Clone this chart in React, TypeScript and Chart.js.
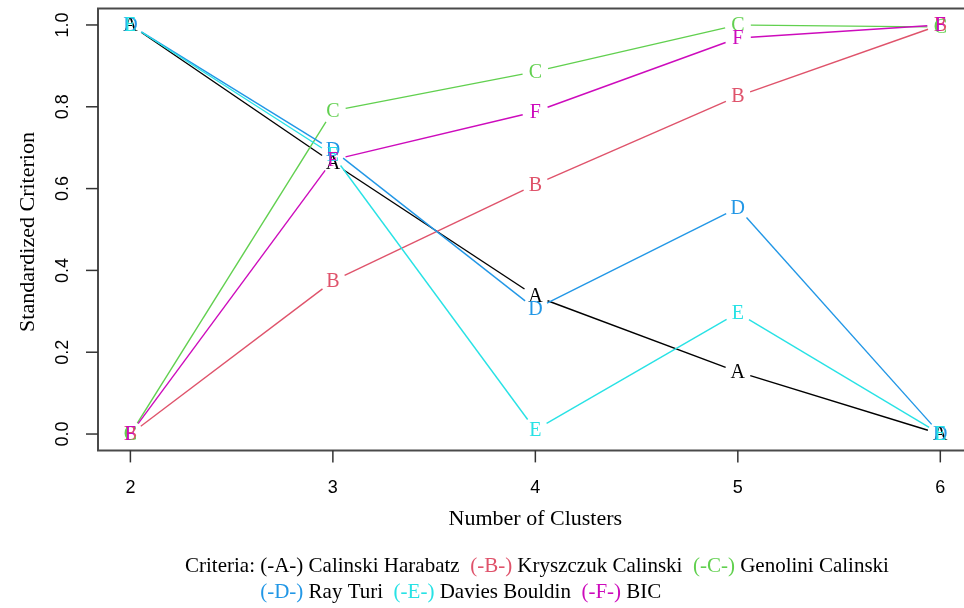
import React, { useEffect, useRef } from "react";
import { Chart, registerables } from "chart.js";

Chart.register(...registerables);

const clusters = [2, 3, 4, 5, 6];
const calinskiHarabatz = [1.0, 0.663, 0.337, 0.152, 0.0];
const kryszczukCalinski = [0.0, 0.374, 0.61, 0.826, 1.0];
const genoliniCalinski = [0.0, 0.79, 0.886, 1.0, 0.995];
const rayTuri = [1.0, 0.694, 0.306, 0.553, 0.0];
const daviesBouldin = [1.0, 0.682, 0.01, 0.296, 0.0];
const bic = [0.0, 0.67, 0.788, 0.968, 1.0];

const seriesNames = ["Calinski Harabatz", "Kryszczuk Calinski", "Genolini Calinski", "Ray Turi", "Davies Bouldin", "BIC"];
const seriesLetters = ["A", "B", "C", "D", "E", "F"];
const seriesValues = [calinskiHarabatz, kryszczukCalinski, genoliniCalinski, rayTuri, daviesBouldin, bic];
const seriesColors = ["#000000", "#DF536B", "#61D04F", "#2297E6", "#28E2E5", "#CD0BBC"];

const xTicks = [2, 3, 4, 5, 6];
const yTicks = [0, 0.2, 0.4, 0.6, 0.8, 1.0];
const xTitle = "Number of Clusters";
const yTitle = "Standardized Criterion";

const SERIF = "'Liberation Serif', 'DejaVu Serif', serif";
const SANS = "'Liberation Sans', Arial, sans-serif";

const rPlugin = {
  id: "rstyle",
  afterDatasetsDraw(chart: any) {
    const ctx = chart.ctx as CanvasRenderingContext2D;
    const area = chart.chartArea;
    const xs = chart.scales.x;
    const ys = chart.scales.y;
    ctx.save();
    // series lines (type "b": gaps around points) and letters
    const gap = 13;
    chart.data.datasets.forEach((ds: any, i: number) => {
      const meta = chart.getDatasetMeta(i);
      const pts = meta.data;
      ctx.strokeStyle = seriesColors[i];
      ctx.lineWidth = 1.4;
      for (let k = 0; k < pts.length - 1; k++) {
        const p0 = pts[k], p1 = pts[k + 1];
        const dx = p1.x - p0.x, dy = p1.y - p0.y;
        const len = Math.hypot(dx, dy);
        if (len <= 2 * gap) continue;
        const ux = dx / len, uy = dy / len;
        ctx.beginPath();
        ctx.moveTo(p0.x + ux * gap, p0.y + uy * gap);
        ctx.lineTo(p1.x - ux * gap, p1.y - uy * gap);
        ctx.stroke();
      }
      ctx.fillStyle = seriesColors[i];
      ctx.font = `20px ${SERIF}`;
      ctx.textAlign = "center";
      ctx.textBaseline = "middle";
      pts.forEach((p: any) => {
        ctx.fillText(seriesLetters[i], p.x, p.y + 1);
      });
    });

    // box (top, left, bottom)
    ctx.strokeStyle = "#4a4a4a";
    ctx.lineWidth = 2;
    ctx.beginPath();
    ctx.moveTo(area.right + 2, area.top);
    ctx.lineTo(area.left, area.top);
    ctx.lineTo(area.left, area.bottom);
    ctx.lineTo(area.right + 2, area.bottom);
    ctx.stroke();

    // x ticks
    ctx.lineWidth = 1.5;
    ctx.strokeStyle = "#333";
    ctx.fillStyle = "#000";
    ctx.font = `18px ${SANS}`;
    ctx.textAlign = "center";
    ctx.textBaseline = "middle";
    xTicks.forEach((v) => {
      const px = xs.getPixelForValue(v);
      ctx.beginPath();
      ctx.moveTo(px, area.bottom);
      ctx.lineTo(px, area.bottom + 12);
      ctx.stroke();
      ctx.fillText(String(v), px, 488);
    });
    // y ticks
    yTicks.forEach((v) => {
      const py = ys.getPixelForValue(v);
      ctx.beginPath();
      ctx.moveTo(area.left, py);
      ctx.lineTo(area.left - 12, py);
      ctx.stroke();
      ctx.save();
      ctx.translate(63, py);
      ctx.rotate(-Math.PI / 2);
      ctx.fillText(v.toFixed(1), 0, 0);
      ctx.restore();
    });

    // axis titles
    ctx.font = `22px ${SERIF}`;
    ctx.fillText(xTitle, xs.getPixelForValue(4), 519);
    ctx.save();
    ctx.translate(28, 232);
    ctx.rotate(-Math.PI / 2);
    ctx.fillText(yTitle, 0, 0);
    ctx.restore();

    // legend text
    ctx.font = `21px ${SERIF}`;
    ctx.textAlign = "left";
    const drawLine = (startX: number, y: number, prefix: string, idxs: number[]) => {
      let x = startX;
      if (prefix) {
        ctx.fillStyle = "#000";
        ctx.fillText(prefix, x, y);
        x += ctx.measureText(prefix).width;
      }
      const begin = x;
      idxs.forEach((i, j) => {
        const tag = `(-${seriesLetters[i]}-) `;
        ctx.fillStyle = seriesColors[i];
        ctx.fillText(tag, x, y);
        x += ctx.measureText(tag).width;
        const name = seriesNames[i] + (j < idxs.length - 1 ? "  " : "");
        ctx.fillStyle = "#000";
        ctx.fillText(name, x, y);
        x += ctx.measureText(name).width;
      });
      return begin;
    };
    const col = drawLine(185, 566, "Criteria: ", [0, 1, 2]);
    drawLine(col, 592, "", [3, 4, 5]);
    ctx.restore();
  },
};

export default function App() {
  const ref = useRef<HTMLCanvasElement>(null);
  useEffect(() => {
    if (!ref.current) return;
    const chart = new Chart(ref.current, {
      type: "line",
      data: {
        datasets: seriesValues.map((vals, i) => ({
          label: seriesNames[i],
          data: clusters.map((c, k) => ({ x: c, y: vals[k] })),
          showLine: false,
          pointRadius: 0,
          borderColor: seriesColors[i],
          backgroundColor: seriesColors[i],
        })),
      },
      options: {
        animation: false,
        responsive: false,
        maintainAspectRatio: false,
        layout: { padding: { left: 98, top: 8.6, right: 0, bottom: 157.6 } },
        plugins: { legend: { display: false }, tooltip: { enabled: false } },
        scales: {
          x: { type: "linear", display: false, min: 1.84, max: 6.117 },
          y: { type: "linear", display: false, min: -0.04, max: 1.04 },
        },
      },
      plugins: [rPlugin],
    });
    return () => chart.destroy();
  }, []);
  return (
    <div style={{ position: "fixed", left: 0, top: 0, width: 964, height: 608, background: "#fff" }}>
      <canvas ref={ref} width={964} height={608} style={{ width: 964, height: 608, display: "block" }} />
    </div>
  );
}
